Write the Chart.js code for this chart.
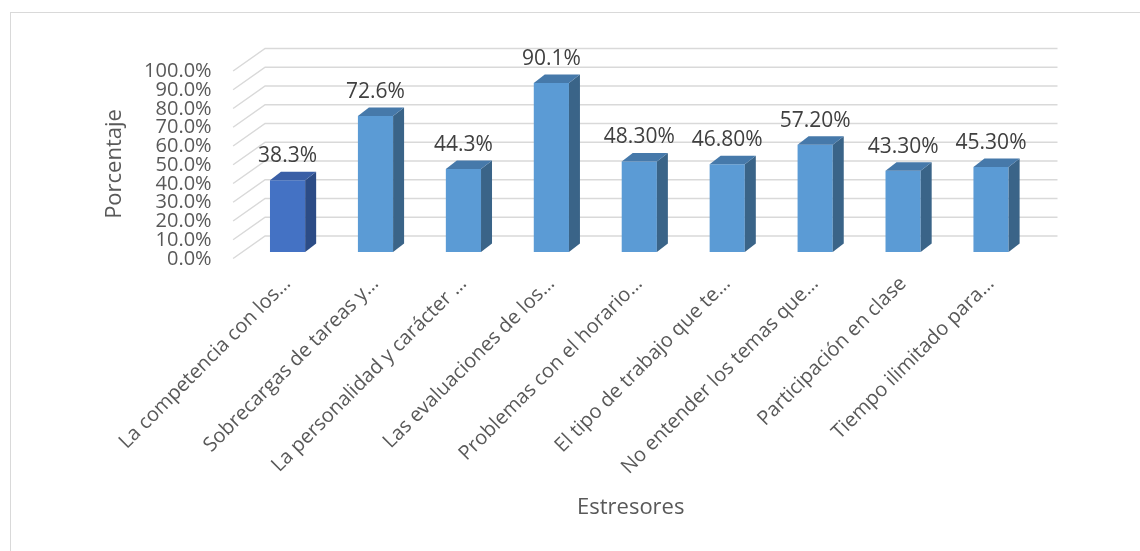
<!DOCTYPE html>
<html>
<head>
<meta charset="utf-8">
<title>Estresores</title>
<script src="https://cdn.jsdelivr.net/npm/chart.js@4.4.0/dist/chart.umd.min.js"></script>
<style>
  html, body { margin: 0; padding: 0; background: #fff; overflow: hidden; }
  #wrap { position: relative; width: 1140px; height: 551px; }
  #marco { position: absolute; left: 10px; top: 12px; width: 1200px; height: 600px; border: 1.5px solid #d9d9d9; }
  canvas { position: absolute; left: 0; top: 0; }
</style>
</head>
<body>
<div id="wrap">
  <div id="marco"></div>
  <canvas id="grafico" width="1140" height="551"></canvas>
</div>
<script>
// datos del grafico
var estresores = [
  "La competencia con los…",
  "Sobrecargas de tareas y…",
  "La personalidad y carácter …",
  "Las evaluaciones de los…",
  "Problemas con el horario…",
  "El tipo de trabajo que te…",
  "No entender los temas que…",
  "Participación en clase",
  "Tiempo ilimitado para…"
];
var porcentajes = [38.3, 72.6, 44.3, 90.1, 48.3, 46.8, 57.2, 43.3, 45.3];
var etiquetas = ["38.3%", "72.6%", "44.3%", "90.1%", "48.30%", "46.80%", "57.20%", "43.30%", "45.30%"];
var marcasY = [0, 10, 20, 30, 40, 50, 60, 70, 80, 90, 100];

var colorFrente = ["#4472C4", "#5B9BD5", "#5B9BD5", "#5B9BD5", "#5B9BD5", "#5B9BD5", "#5B9BD5", "#5B9BD5", "#5B9BD5"];
var colorLado = ["#2C4C86", "#3A6488", "#3A6488", "#3A6488", "#3A6488", "#3A6488", "#3A6488", "#3A6488", "#3A6488"];
var colorTapa = ["#3A5FA6", "#4679AA", "#4679AA", "#4679AA", "#4679AA", "#4679AA", "#4679AA", "#4679AA", "#4679AA"];

var fuente = "'Open Sans', 'Noto Sans', sans-serif";
var gris = "#595959";

// profundidad de las barras y de las paredes
var PROF_X = 11, PROF_Y = -8.5;

var efecto3d = {
  id: "efecto3d",
  beforeDatasetsDraw: function (chart) {
    var ctx = chart.ctx;
    var area = chart.chartArea;
    var ejeY = chart.scales.y;
    ctx.save();
    ctx.strokeStyle = "#d9d9d9";
    ctx.lineWidth = 1.5;
    marcasY.forEach(function (v) {
      var py = ejeY.getPixelForValue(v);
      ctx.beginPath();
      ctx.moveTo(area.left - 10.5, py + 6.5);
      ctx.lineTo(area.left + 21.5, py - 16);
      ctx.lineTo(area.right + 22.5, py - 16);
      ctx.stroke();
    });
    ctx.restore();
  },
  afterDatasetsDraw: function (chart) {
    var ctx = chart.ctx;
    var meta = chart.getDatasetMeta(0);
    ctx.save();
    meta.data.forEach(function (barra, i) {
      var p = barra.getProps(["x", "y", "base", "width"], true);
      var izq = p.x - p.width / 2;
      var der = p.x + p.width / 2;
      // lado
      ctx.fillStyle = colorLado[i];
      ctx.beginPath();
      ctx.moveTo(der, p.y);
      ctx.lineTo(der + PROF_X, p.y + PROF_Y);
      ctx.lineTo(der + PROF_X, p.base + PROF_Y);
      ctx.lineTo(der, p.base);
      ctx.closePath();
      ctx.fill();
      // tapa
      ctx.fillStyle = colorTapa[i];
      ctx.beginPath();
      ctx.moveTo(izq, p.y);
      ctx.lineTo(izq + PROF_X, p.y + PROF_Y);
      ctx.lineTo(der + PROF_X, p.y + PROF_Y);
      ctx.lineTo(der, p.y);
      ctx.closePath();
      ctx.fill();
      // etiqueta de valor
      ctx.fillStyle = "#404040";
      ctx.font = "21px " + fuente;
      ctx.textAlign = "center";
      ctx.textBaseline = "alphabetic";
      ctx.fillText(etiquetas[i], p.x, p.y - 18);
    });
    ctx.restore();
  }
};

var ctx = document.getElementById("grafico").getContext("2d");
var grafico = new Chart(ctx, {
  type: "bar",
  data: {
    labels: estresores,
    datasets: [
      {
        label: "Porcentaje",
        data: porcentajes,
        backgroundColor: colorFrente,
        borderWidth: 0,
        categoryPercentage: 1,
        barPercentage: 0.4
      }
    ]
  },
  options: {
    responsive: false,
    animation: false,
    layout: {
      padding: { left: 100, right: 105, top: 64.5, bottom: 20 }
    },
    plugins: {
      legend: { display: false },
      tooltip: { enabled: false }
    },
    scales: {
      x: {
        grid: { display: false, drawTicks: false },
        border: { display: false },
        ticks: {
          autoSkip: false,
          minRotation: 45,
          maxRotation: 45,
          padding: 20,
          color: gris,
          font: { family: fuente, size: 20 }
        },
        title: {
          display: true,
          text: "Estresores\u00a0\u00a0\u00a0",
          color: gris,
          padding: { top: 0, bottom: 10 },
          font: { family: fuente, size: 22 }
        },
        afterFit: function (eje) {
          eje.height = 279;
        }
      },
      y: {
        min: 0,
        max: 100,
        grid: { display: false, drawTicks: false },
        border: { display: false },
        afterBuildTicks: function (eje) {
          eje.ticks = marcasY.map(function (v) { return { value: v }; });
        },
        ticks: {
          autoSkip: false,
          padding: 32,
          labelOffset: 7,
          color: gris,
          font: { family: fuente, size: 20 },
          callback: function (v) { return v.toFixed(1) + "%"; }
        },
        title: {
          display: true,
          text: "Porcentaje\u00a0\u00a0",
          color: gris,
          padding: { top: 2, bottom: 0 },
          font: { family: fuente, size: 22 }
        },
        afterFit: function (eje) {
          eje.width = 143.6;
        }
      }
    }
  },
  plugins: [efecto3d]
});
</script>
</body>
</html>
